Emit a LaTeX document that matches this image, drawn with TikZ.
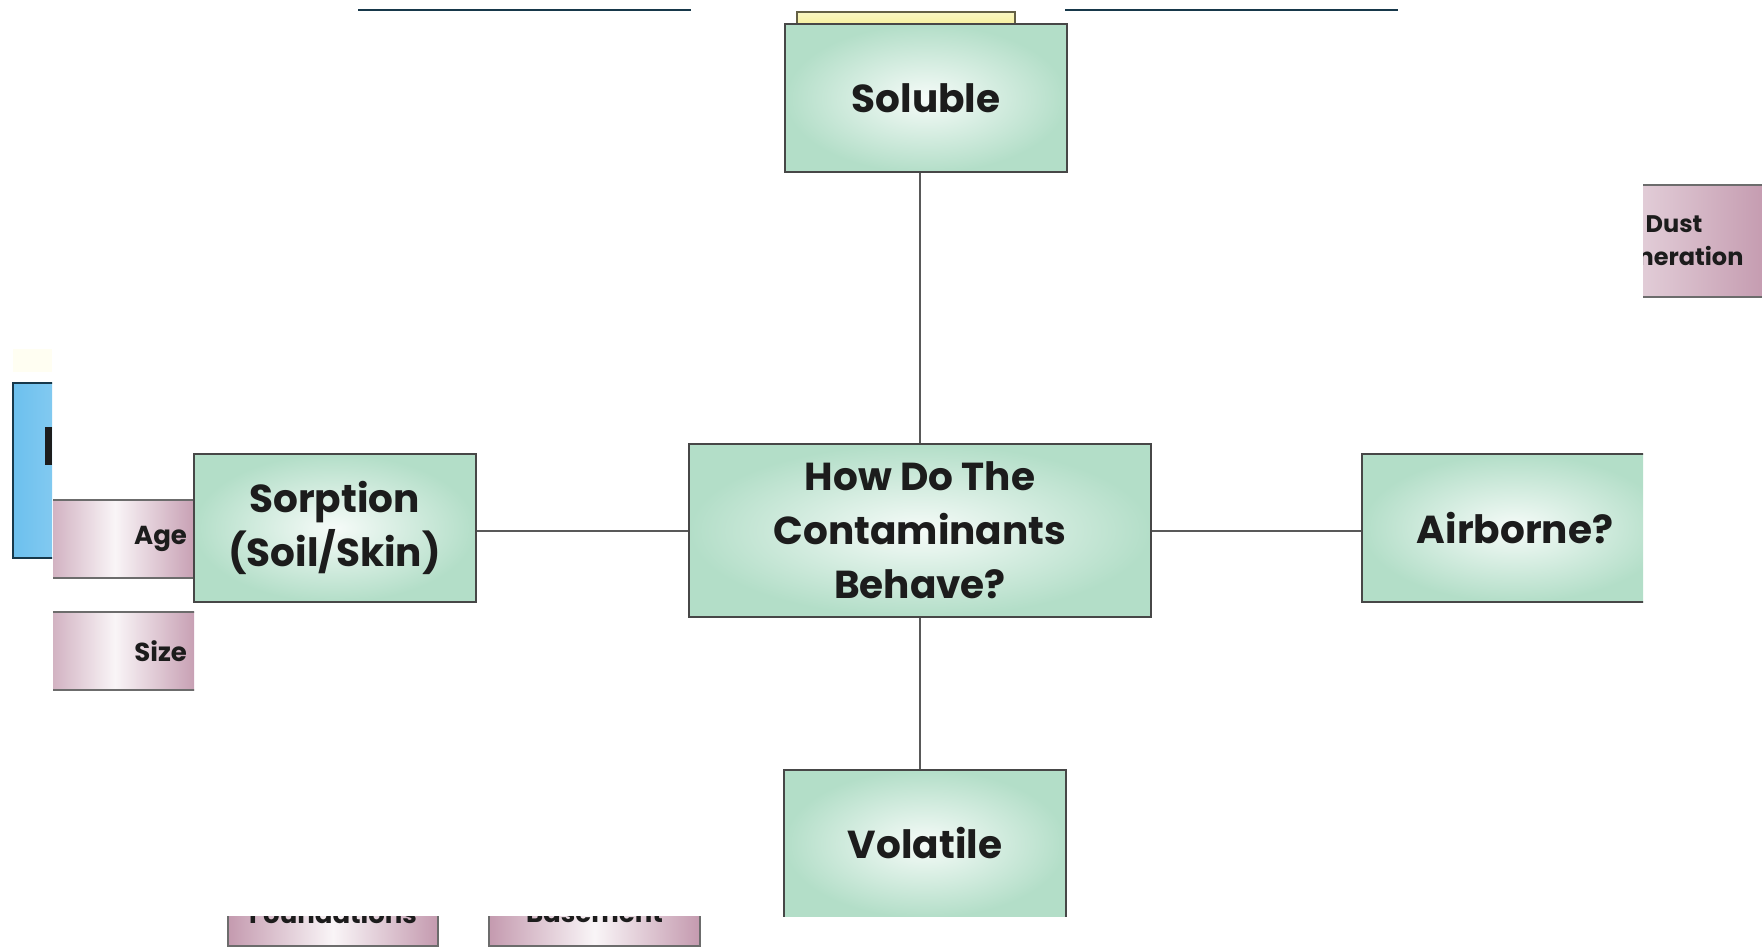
\documentclass[tikz,border=0pt]{standalone}
\usepackage{fontspec}
\setmainfont{Poppins}
\usetikzlibrary{positioning}
\definecolor{mint}{HTML}{B3DEC8}
\definecolor{mauve}{HTML}{C49AAF}
\definecolor{sky}{HTML}{6CC0EE}
\definecolor{ink}{HTML}{1C1C1C}
\definecolor{frame}{HTML}{474747}
\definecolor{navy}{HTML}{17384A}
\definecolor{lemon}{HTML}{F6F09A}

\begin{document}
\begin{tikzpicture}[x=0.5pt, y=-0.5pt,
        topic/.style={rectangle, draw=frame, line width=1pt, inner color=mint!12, outer color=mint, text=ink,
            font=\bfseries\fontsize{19.5}{27}\selectfont, align=center, minimum width=141pt, minimum height=74pt},
        factor/.style={rectangle, draw=frame!80, line width=1pt, left color=mauve, right color=mauve, middle color=mauve!10,
            text=ink, font=\bfseries\fontsize{13}{16.5}\selectfont},
        link/.style={draw=frame!90, line width=1pt}]
    \useasboundingbox (0,0) rectangle (1762,947);
    % pieces cut off at the edges
    \draw[navy, line width=1pt] (358,10) -- (691,10);
    \draw[navy, line width=1pt] (1065,10) -- (1398,10);
    \draw[draw=black!70!yellow, line width=1pt, top color=lemon!60, bottom color=lemon] (797,12) rectangle (1015,26);
    \fill[yellow!5] (13,349) rectangle (52,372);
    \begin{scope}
        \clip (0,0) rectangle (52,947);
        \draw[navy, line width=1pt, left color=sky, right color=sky!60] (13,383) rectangle (120,558);
        \fill[ink] (45,427) rectangle (52,465);
    \end{scope}
    \begin{scope}
        \clip (53,0) rectangle (194,947);
        \node[factor, minimum width=85pt, minimum height=39pt, text width=72pt, align=right] (age) at (115,539) {Age};
        \node[factor, minimum width=85pt, minimum height=39pt, text width=72pt, align=right] (size) at (115,651) {Size};
    \end{scope}
    \begin{scope}
        \clip (0,916) rectangle (1762,947);
        \node[factor, minimum width=105pt, minimum height=33pt] (found) at (333,913) {Foundations};
        \node[factor, minimum width=105.5pt, minimum height=33pt] (base) at (594.5,913) {Basement};
    \end{scope}
    \begin{scope}
        \clip (1643,0) rectangle (1762,947);
        \node[factor, left color=mauve!25, middle color=mauve!10, right color=mauve, align=center,
            font=\bfseries\fontsize{12}{16.5}\selectfont, minimum width=95pt, minimum height=56pt] (dust) at (1674,241) {Dust\\Generation};
    \end{scope}
    % main boxes
    \node[topic] (soluble) at (926,98.5) {Soluble};
    \node[topic, minimum width=231pt, minimum height=86.5pt] (behave) at (920,530.5) {How Do The\\Contaminants\\Behave?};
    \node[topic] (sorption) at (334.5,528) {Sorption\\(Soil/Skin)};
    \begin{scope}
        \clip (0,0) rectangle (1643,947);
        \node[topic, minimum width=153pt] (airborne) at (1515,528) {Airborne?};
    \end{scope}
    \begin{scope}
        \clip (0,0) rectangle (1762,916);
        \node[topic] (volatile) at (925,843.5) {Volatile};
    \end{scope}
    \path[link] (behave.north) -- (behave.north |- soluble.south);
    \path[link] (behave.south) -- (behave.south |- volatile.north);
    \path[link] (behave.west) -- (behave.west -| sorption.east);
    \path[link] (behave.east) -- (behave.east -| airborne.west);
\end{tikzpicture}
\end{document}
